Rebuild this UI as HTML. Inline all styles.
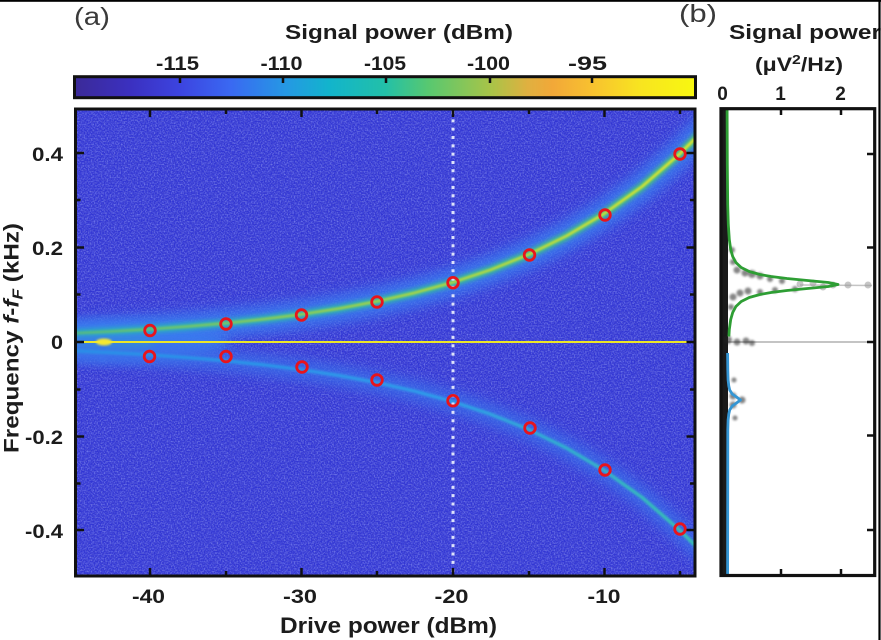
<!DOCTYPE html>
<html><head><meta charset="utf-8">
<style>
html,body{margin:0;padding:0;background:#fff;width:881px;height:640px;overflow:hidden}
svg{display:block}
text{font-family:"Liberation Sans",Arial,sans-serif;fill:#1c1c1c}
.b{font-weight:bold}
</style></head>
<body>
<svg width="881" height="640" viewBox="0 0 881 640" xmlns="http://www.w3.org/2000/svg">
<defs>
  <clipPath id="pc"><rect x="75.5" y="109" width="619.5" height="467"/></clipPath>
  <clipPath id="bc"><rect x="721" y="108.7" width="153.7" height="466.8"/></clipPath>
  <filter id="b1" x="-20%" y="-20%" width="140%" height="140%"><feGaussianBlur stdDeviation="1"/></filter>
  <filter id="b2" x="-20%" y="-20%" width="140%" height="140%"><feGaussianBlur stdDeviation="2"/></filter>
  <filter id="b4" x="-20%" y="-20%" width="140%" height="140%"><feGaussianBlur stdDeviation="4"/></filter>
  <filter id="b6" x="-20%" y="-20%" width="140%" height="140%"><feGaussianBlur stdDeviation="6"/></filter>
  <filter id="noise" x="0" y="0" width="100%" height="100%">
    <feTurbulence type="fractalNoise" baseFrequency="0.7" numOctaves="1" seed="7" result="t"/>
    <feColorMatrix in="t" type="matrix" values="0 0 0 0 0.34  0 0 0 0 0.40  0 0 0 0 1  2.2 0 0 0 -0.95"/>
  </filter>
  <filter id="noise2" x="0" y="0" width="100%" height="100%">
    <feTurbulence type="fractalNoise" baseFrequency="0.7" numOctaves="1" seed="19" result="t"/>
    <feColorMatrix in="t" type="matrix" values="0 0 0 0 0.16  0 0 0 0 0.16  0 0 0 0 0.62  0 2.2 0 0 -0.95"/>
  </filter>
  <linearGradient id="cb" x1="0" x2="1" y1="0" y2="0">
    <stop offset="0" stop-color="#3b2a98"/>
    <stop offset="0.09" stop-color="#3b30c0"/>
    <stop offset="0.17" stop-color="#3c44e0"/>
    <stop offset="0.25" stop-color="#3a68f2"/>
    <stop offset="0.34" stop-color="#2598e4"/>
    <stop offset="0.41" stop-color="#12b4cc"/>
    <stop offset="0.50" stop-color="#22c0a8"/>
    <stop offset="0.57" stop-color="#58c870"/>
    <stop offset="0.67" stop-color="#a8c448"/>
    <stop offset="0.73" stop-color="#e0b040"/>
    <stop offset="0.77" stop-color="#f2a838"/>
    <stop offset="0.83" stop-color="#f8c030"/>
    <stop offset="0.91" stop-color="#f8e420"/>
    <stop offset="1" stop-color="#f8f810"/>
  </linearGradient>
  <linearGradient id="uc" gradientUnits="userSpaceOnUse" x1="74" y1="0" x2="695" y2="0">
    <stop offset="0" stop-color="#58c078"/>
    <stop offset="0.45" stop-color="#a8d440"/>
    <stop offset="1" stop-color="#ece828"/>
  </linearGradient>
  <linearGradient id="um" gradientUnits="userSpaceOnUse" x1="74" y1="0" x2="695" y2="0">
    <stop offset="0" stop-color="#2aa8c8"/>
    <stop offset="0.5" stop-color="#30b8a8"/>
    <stop offset="1" stop-color="#48c478"/>
  </linearGradient>
  <linearGradient id="lc" gradientUnits="userSpaceOnUse" x1="74" y1="0" x2="695" y2="0">
    <stop offset="0" stop-color="#2a8ee8"/>
    <stop offset="0.6" stop-color="#2e9eea"/>
    <stop offset="1" stop-color="#38c4b0"/>
  </linearGradient>
</defs>

<rect x="0" y="0" width="881" height="640" fill="#fff"/>

<!-- Main heatmap -->
<g clip-path="url(#pc)">
  <rect x="70" y="100" width="630" height="480" fill="#3236d4"/>
  <rect x="70" y="100" width="630" height="480" filter="url(#noise)" opacity="0.7"/>
  <rect x="70" y="100" width="630" height="480" filter="url(#noise2)" opacity="0.5"/>
  <!-- left glow near zero -->
  <ellipse cx="120" cy="342" rx="110" ry="20" fill="#3a7cee" filter="url(#b6)" opacity="0.9"/>
  <ellipse cx="105" cy="342" rx="50" ry="9" fill="#2cb4b8" filter="url(#b4)" opacity="0.9"/>
  <rect x="100" y="322" width="5" height="40" fill="#3f78ee" filter="url(#b2)" opacity="0.6"/>
  <!-- upper branch -->
  <polyline fill="none" stroke="#3a7cf0" stroke-width="28" opacity="0.85" filter="url(#b6)" stroke-linejoin="round"
    points="60,334 74,333.3 111.9,331.4 149.75,329.2 187.6,326.4 225.5,323.2 263.4,319.2 301.25,314.4 339.1,308.5 377,301.4 414.9,292.8 452.75,282.4 490.6,269.8 528.5,254.6 566.4,236 604.25,213.6 642.1,186.5 680,153.6 695.15,138.6 712,120"/>
  <polyline fill="none" stroke="url(#um)" stroke-width="8" filter="url(#b2)" stroke-linejoin="round"
    points="60,334 74,333.3 111.9,331.4 149.75,329.2 187.6,326.4 225.5,323.2 263.4,319.2 301.25,314.4 339.1,308.5 377,301.4 414.9,292.8 452.75,282.4 490.6,269.8 528.5,254.6 566.4,236 604.25,213.6 642.1,186.5 680,153.6 695.15,138.6 712,120"/>
  <polyline fill="none" stroke="url(#uc)" stroke-width="2.6" filter="url(#b1)" stroke-linejoin="round"
    points="60,334 74,333.3 111.9,331.4 149.75,329.2 187.6,326.4 225.5,323.2 263.4,319.2 301.25,314.4 339.1,308.5 377,301.4 414.9,292.8 452.75,282.4 490.6,269.8 528.5,254.6 566.4,236 604.25,213.6 642.1,186.5 680,153.6 695.15,138.6 712,120"/>
  <!-- lower branch -->
  <polyline fill="none" stroke="#3a70ea" stroke-width="20" opacity="0.8" filter="url(#b6)" stroke-linejoin="round"
    points="60,351 74,350.7 111.9,352.6 149.75,354.8 187.6,357.6 225.5,360.8 263.4,364.8 301.25,369.7 339.1,375.5 377,382.6 414.9,391.2 452.75,401.6 490.6,414.2 528.5,429.4 566.4,448 604.25,470.4 642.1,497.5 680,530.4 695.15,545.4 712,562"/>
  <polyline fill="none" stroke="url(#lc)" stroke-width="3.5" filter="url(#b1)" stroke-linejoin="round"
    points="60,351 74,350.7 111.9,352.6 149.75,354.8 187.6,357.6 225.5,360.8 263.4,364.8 301.25,369.7 339.1,375.5 377,382.6 414.9,391.2 452.75,401.6 490.6,414.2 528.5,429.4 566.4,448 604.25,470.4 642.1,497.5 680,530.4 695.15,545.4 712,562"/>
  <!-- zero line -->
  <line x1="70" y1="342" x2="700" y2="342" stroke="#6cc868" stroke-width="5" filter="url(#b1)"/>
  <line x1="70" y1="342" x2="700" y2="342" stroke="#ece628" stroke-width="2"/>
  <ellipse cx="104" cy="342" rx="8" ry="3.5" fill="#f4e830" filter="url(#b1)"/>
  <!-- dotted line -->
  <line x1="453" y1="111" x2="453" y2="576" stroke="#dde2fa" stroke-width="3" stroke-dasharray="3 5.33"/>
  <!-- red circles -->
  <g fill="none" stroke="#e8141c" stroke-width="2.8">
    <circle cx="150" cy="330.5" r="5.3"/><circle cx="226" cy="324" r="5.3"/><circle cx="301.5" cy="315" r="5.3"/>
    <circle cx="377" cy="302" r="5.3"/><circle cx="453" cy="282.7" r="5.3"/><circle cx="529.5" cy="255" r="5.3"/>
    <circle cx="605" cy="215" r="5.3"/><circle cx="680" cy="154" r="5.3"/>
    <circle cx="149.5" cy="356.5" r="5.3"/><circle cx="226" cy="356.5" r="5.3"/><circle cx="302" cy="367" r="5.3"/>
    <circle cx="377" cy="380" r="5.3"/><circle cx="453" cy="400.7" r="5.3"/><circle cx="530" cy="428" r="5.3"/>
    <circle cx="605" cy="470" r="5.3"/><circle cx="680" cy="529" r="5.3"/>
  </g>
</g>
<!-- main frame -->
<rect x="75.5" y="109" width="619.5" height="467" fill="none" stroke="#111" stroke-width="3"/>
<g stroke="#111" stroke-width="2.5">
  <line x1="150" y1="576" x2="150" y2="568"/><line x1="150" y1="109" x2="150" y2="117"/>
  <line x1="226" y1="576" x2="226" y2="571"/><line x1="226" y1="109" x2="226" y2="114"/>
  <line x1="301.5" y1="576" x2="301.5" y2="568"/><line x1="301.5" y1="109" x2="301.5" y2="117"/>
  <line x1="377" y1="576" x2="377" y2="571"/><line x1="377" y1="109" x2="377" y2="114"/>
  <line x1="453" y1="576" x2="453" y2="568"/><line x1="453" y1="109" x2="453" y2="117"/>
  <line x1="529" y1="576" x2="529" y2="571"/><line x1="529" y1="109" x2="529" y2="114"/>
  <line x1="604.5" y1="576" x2="604.5" y2="568"/><line x1="604.5" y1="109" x2="604.5" y2="117"/>
  <line x1="680" y1="576" x2="680" y2="571"/><line x1="680" y1="109" x2="680" y2="114"/>
  <line x1="75.5" y1="153" x2="84" y2="153"/><line x1="695" y1="153" x2="686.5" y2="153"/>
  <line x1="75.5" y1="200" x2="80.5" y2="200"/><line x1="695" y1="200" x2="690" y2="200"/>
  <line x1="75.5" y1="247.5" x2="84" y2="247.5"/><line x1="695" y1="247.5" x2="686.5" y2="247.5"/>
  <line x1="75.5" y1="294.5" x2="80.5" y2="294.5"/><line x1="695" y1="294.5" x2="690" y2="294.5"/>
  <line x1="75.5" y1="342" x2="84" y2="342"/><line x1="695" y1="342" x2="686.5" y2="342"/>
  <line x1="75.5" y1="389.5" x2="80.5" y2="389.5"/><line x1="695" y1="389.5" x2="690" y2="389.5"/>
  <line x1="75.5" y1="436.5" x2="84" y2="436.5"/><line x1="695" y1="436.5" x2="686.5" y2="436.5"/>
  <line x1="75.5" y1="483.5" x2="80.5" y2="483.5"/><line x1="695" y1="483.5" x2="690" y2="483.5"/>
  <line x1="75.5" y1="530" x2="84" y2="530"/><line x1="695" y1="530" x2="686.5" y2="530"/>
</g>

<!-- colorbar -->
<rect x="74.5" y="76.7" width="621" height="21" fill="url(#cb)" stroke="#111" stroke-width="3"/>
<g stroke="#111" stroke-width="2.5">
  <line x1="180" y1="76.7" x2="180" y2="83"/><line x1="283" y1="76.7" x2="283" y2="83"/>
  <line x1="386" y1="76.7" x2="386" y2="83"/><line x1="490" y1="76.7" x2="490" y2="83"/>
  <line x1="592" y1="76.7" x2="592" y2="83"/>
</g>

<!-- texts panel a -->
<text x="92" y="25" font-size="25" text-anchor="middle" textLength="36" lengthAdjust="spacingAndGlyphs" style="fill:#3a3a3a">(a)</text>
<text x="698" y="22" font-size="25" text-anchor="middle" textLength="38" lengthAdjust="spacingAndGlyphs" style="fill:#3a3a3a">(b)</text>
<text class="b" x="399" y="39" font-size="20" text-anchor="middle" textLength="228" lengthAdjust="spacingAndGlyphs">Signal power (dBm)</text>
<g class="b" font-size="19" text-anchor="middle">
  <text class="b" x="177.5" y="70" textLength="43" lengthAdjust="spacingAndGlyphs">-115</text>
  <text class="b" x="281.5" y="70" textLength="42" lengthAdjust="spacingAndGlyphs">-110</text>
  <text class="b" x="385" y="70" textLength="42" lengthAdjust="spacingAndGlyphs">-105</text>
  <text class="b" x="488.5" y="70" textLength="43" lengthAdjust="spacingAndGlyphs">-100</text>
  <text class="b" x="587.5" y="70" textLength="39" lengthAdjust="spacingAndGlyphs">-95</text>
  <text class="b" x="148.5" y="603" textLength="33" lengthAdjust="spacingAndGlyphs">-40</text>
  <text class="b" x="300" y="603" textLength="34" lengthAdjust="spacingAndGlyphs">-30</text>
  <text class="b" x="451.5" y="603" textLength="34" lengthAdjust="spacingAndGlyphs">-20</text>
  <text class="b" x="604" y="603" textLength="33" lengthAdjust="spacingAndGlyphs">-10</text>
</g>
<g class="b" font-size="19" text-anchor="end">
  <text class="b" x="63" y="161" textLength="31" lengthAdjust="spacingAndGlyphs">0.4</text>
  <text class="b" x="63" y="255" textLength="31" lengthAdjust="spacingAndGlyphs">0.2</text>
  <text class="b" x="63" y="349" textLength="12" lengthAdjust="spacingAndGlyphs">0</text>
  <text class="b" x="63" y="444" textLength="38" lengthAdjust="spacingAndGlyphs">-0.2</text>
  <text class="b" x="63" y="538" textLength="38" lengthAdjust="spacingAndGlyphs">-0.4</text>
</g>
<text class="b" x="388.5" y="633" font-size="22" text-anchor="middle" textLength="217" lengthAdjust="spacingAndGlyphs">Drive power (dBm)</text>
<text class="b" transform="translate(18.5,338) rotate(-90)" font-size="21" text-anchor="middle" textLength="230" lengthAdjust="spacingAndGlyphs">Frequency <tspan font-style="italic">f</tspan>-<tspan font-style="italic">f</tspan><tspan font-style="italic" font-size="15" dy="4">F</tspan><tspan dy="-4"> (kHz)</tspan></text>

<!-- panel b -->
<g clip-path="url(#bc)">
  <rect x="721" y="108.7" width="153.7" height="466.8" fill="#fff"/>
  <line x1="721" y1="342" x2="875" y2="342" stroke="#c4c4c4" stroke-width="2"/>
  <line x1="800" y1="285" x2="872" y2="285.5" stroke="#c4c4c4" stroke-width="1.5"/>
  <g fill="#999" opacity="0.55">
    <circle cx="813" cy="283" r="3.5"/><circle cx="823" cy="287" r="3.5"/><circle cx="833" cy="285" r="3.5"/>
    <circle cx="848" cy="285" r="3.5"/><circle cx="868" cy="285" r="3.5"/><circle cx="800" cy="284" r="3.5"/>
  </g>
  <line x1="724.5" y1="108" x2="724.5" y2="576" stroke="#1a1a1a" stroke-width="7"/>
  <line x1="731.5" y1="108" x2="731.5" y2="576" stroke="#333" stroke-width="4" stroke-dasharray="3 4" opacity="0.75" filter="url(#b1)"/>
  <g fill="#222" opacity="0.55" filter="url(#b1)">
    <circle cx="737" cy="270" r="3.5"/><circle cx="745" cy="273" r="3.5"/><circle cx="752" cy="274" r="4"/>
    <circle cx="760" cy="276" r="3.5"/><circle cx="770" cy="279" r="3"/><circle cx="782" cy="281" r="3"/>
    <circle cx="740" cy="293" r="3.5"/><circle cx="748" cy="291" r="3.5"/><circle cx="760" cy="292" r="3"/>
    <circle cx="733" cy="297" r="3.5"/><circle cx="731" cy="307" r="3"/><circle cx="733" cy="262" r="3"/>
    <circle cx="732" cy="250" r="3"/><circle cx="775" cy="290" r="3"/><circle cx="795" cy="289" r="3"/>
    <circle cx="728" cy="340" r="4"/><circle cx="737" cy="342" r="3.5"/><circle cx="746" cy="341" r="3.5"/><circle cx="752" cy="343" r="3"/>
    <circle cx="733" cy="396" r="3.5"/><circle cx="742" cy="400" r="3.5"/><circle cx="733" cy="405" r="3.5"/>
    <circle cx="735" cy="418" r="2.5"/><circle cx="734" cy="380" r="2.5"/>
  </g>
  <polyline fill="none" stroke="#2e9e34" stroke-width="2.8" stroke-linejoin="round"
    points="727.1,110 727.3,164.5 727.7,204.5 728.3,224.5 729.3,239.5 730.7,249.5 732.7,256.5 735.9,262.5 741.2,267.5 749.2,271.5 760,274.5 771.1,276.5 786.9,278.5 807.5,280.5 828.4,282.5 838,284.5 828.4,286.5 807.5,288.5 786.9,290.5 771.1,292.5 760,294.5 749.2,297.5 741.2,301.5 735.9,306.5 732.7,312.5 730.7,319.5 729.3,329.5 728.9,336.5"/>
  <polyline fill="none" stroke="#3596d4" stroke-width="2.8" stroke-linejoin="round"
    points="727.6,353 727.8,370 728.1,380 728.8,386 729.7,390 732.2,394 736.5,397 740.5,400 736.5,403 732.2,406 729.7,410 728.8,414 728.1,420 727.8,430 727.6,576"/>
</g>
<rect x="721" y="108.7" width="153.7" height="466.8" fill="none" stroke="#111" stroke-width="3.2"/>
<g stroke="#111" stroke-width="2.5">
  <line x1="781" y1="108.7" x2="781" y2="115"/><line x1="841" y1="108.7" x2="841" y2="115"/>
  <line x1="781" y1="575.5" x2="781" y2="569"/><line x1="841" y1="575.5" x2="841" y2="569"/>
  <line x1="874.7" y1="154" x2="867" y2="154"/><line x1="874.7" y1="247.5" x2="867" y2="247.5"/>
  <line x1="874.7" y1="342" x2="867" y2="342"/><line x1="874.7" y1="435.5" x2="867" y2="435.5"/>
  <line x1="874.7" y1="530" x2="867" y2="530"/>
</g>
<text class="b" x="729" y="39" font-size="20" textLength="152" lengthAdjust="spacingAndGlyphs">Signal power</text>
<text class="b" x="799" y="71" font-size="19" text-anchor="middle" textLength="88" lengthAdjust="spacingAndGlyphs">(μV<tspan font-size="13" dy="-7">2</tspan><tspan dy="7">/Hz)</tspan></text>
<g class="b" font-size="19" text-anchor="middle">
  <text class="b" x="722.5" y="100">0</text>
  <text class="b" x="780.5" y="100">1</text>
  <text class="b" x="840.5" y="100">2</text>
</g>

<rect x="0" y="0" width="881" height="1.8" fill="#000"/>
<rect x="878.4" y="0" width="2.2" height="640" fill="#000"/>
</svg>
</body></html>
